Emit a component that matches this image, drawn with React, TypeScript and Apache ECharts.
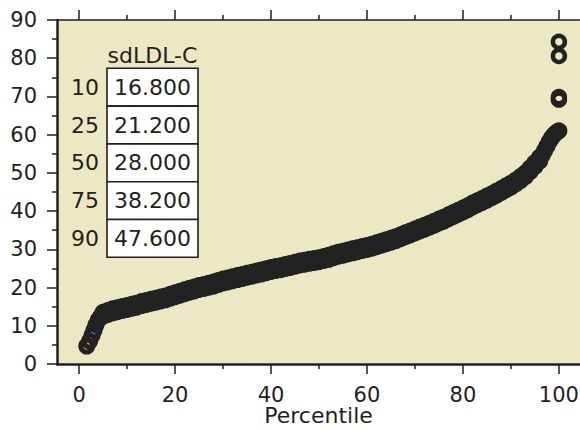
import React, { useEffect, useRef } from "react";
import * as echarts from "echarts";

// Lower tail (steep start of the curve)
const lowTailPct = [1.6, 2.2, 2.7, 3.1, 3.5, 4.0, 4.5];
const lowTailVals = [4.7, 6.0, 7.5, 8.8, 10.2, 11.5, 12.4];

// Main body of the curve: lower and upper edge of the dense band of points
const bandPct = [
  5, 6, 7, 8, 9, 10, 11, 12, 13, 14, 15, 16, 17, 18, 19, 20,
  21, 22, 23, 24, 25, 26, 27, 28, 29, 30, 31, 32, 33, 34, 35, 36, 37, 38, 39, 40,
  41, 42, 43, 44, 45, 46, 47, 48, 49, 50, 51, 52, 53, 54, 55, 56, 57, 58, 59, 60,
  61, 62, 63, 64, 65, 66, 67, 68, 69, 70, 71, 72, 73, 74, 75, 76, 77, 78, 79, 80,
  81, 82, 83, 84, 85, 86, 87, 88, 89, 90, 91, 92, 93, 94, 95, 96,
];
const bandLower = [
  12.5, 13.0, 13.4, 13.7, 14.0, 14.3, 14.6, 14.9, 15.3, 15.6, 15.9, 16.2, 16.5, 16.8, 17.2, 17.6,
  18.0, 18.4, 18.8, 19.1, 19.5, 19.8, 20.1, 20.4, 20.8, 21.2, 21.5, 21.8, 22.1, 22.4, 22.7, 23.0, 23.3, 23.6, 23.9, 24.2,
  24.5, 24.7, 25.0, 25.3, 25.6, 25.9, 26.1, 26.4, 26.6, 26.8, 27.1, 27.4, 27.8, 28.2, 28.5, 28.8, 29.1, 29.4, 29.7, 30.0,
  30.3, 30.7, 31.1, 31.5, 31.9, 32.3, 32.8, 33.3, 33.8, 34.3, 34.8, 35.3, 35.8, 36.3, 36.9, 37.4, 38.0, 38.6, 39.2, 39.8,
  40.4, 41.1, 41.7, 42.3, 42.9, 43.5, 44.2, 44.9, 45.6, 46.3, 47.1, 48.0, 49.0, 50.3, 51.7, 53.1,
];
const bandUpper = [
  13.5, 14.0, 14.4, 14.7, 15.0, 15.3, 15.6, 15.9, 16.3, 16.6, 16.9, 17.2, 17.5, 17.8, 18.2, 18.6,
  19.0, 19.4, 19.8, 20.1, 20.5, 20.8, 21.1, 21.4, 21.8, 22.2, 22.5, 22.8, 23.1, 23.4, 23.7, 24.0, 24.3, 24.6, 24.9, 25.2,
  25.5, 25.7, 26.0, 26.3, 26.6, 26.9, 27.1, 27.4, 27.6, 27.8, 28.1, 28.4, 28.8, 29.2, 29.5, 29.8, 30.1, 30.4, 30.7, 31.0,
  31.3, 31.7, 32.1, 32.5, 32.9, 33.3, 33.8, 34.3, 34.8, 35.3, 35.8, 36.3, 36.8, 37.3, 37.9, 38.4, 39.0, 39.6, 40.2, 40.8,
  41.4, 42.1, 42.7, 43.3, 43.9, 44.5, 45.2, 45.9, 46.6, 47.3, 48.1, 49.0, 50.0, 51.3, 52.7, 54.1,
];

// Upper tail (steep end of the curve)
const topTailPct = [96.5, 97, 97.5, 98, 98.5, 99, 99.5, 100];
const topTailVals = [54.6, 55.8, 57.0, 58.2, 59.2, 60.0, 60.6, 61.0];

// Isolated high values
const outlierPct = [100, 100, 100, 100];
const outlierVals = [69.2, 69.8, 80.6, 84.3];

const xMajorTicks = [0, 20, 40, 60, 80, 100];
const xMinorTicks = [10, 30, 50, 70, 90];
const yMinorTicks = [5, 15, 25, 35, 45, 55, 65, 75, 85];

const tableTitle = "sdLDL-C";
const tablePercentiles = ["10", "25", "50", "75", "90"];
const tableValues = ["16.800", "21.200", "28.000", "38.200", "47.600"];

const FONT = "DejaVu Sans";
const INK = "#231f20";
const BG = "#ece8c4";

export default function App() {
  const ref = useRef<HTMLDivElement>(null);
  useEffect(() => {
    if (!ref.current) return;
    const chart = echarts.init(ref.current, null, { renderer: "svg" });

    const mainData: number[][] = [];
    lowTailPct.forEach((p, i) => mainData.push([p, lowTailVals[i]]));
    bandPct.forEach((p, i) => {
      mainData.push([p, bandLower[i]]);
      mainData.push([p, bandUpper[i]]);
    });
    topTailPct.forEach((p, i) => mainData.push([p, topTailVals[i]]));
    const outData = outlierPct.map((p, i) => [p, outlierVals[i]]);

    const boxLeft = 107;
    const boxWidth = 91;
    const boxTop = 68.3;
    const rowH = 37.8;
    const graphics: any[] = [
      {
        type: "text",
        x: boxLeft + boxWidth / 2,
        y: 55,
        style: { text: tableTitle, font: `22px '${FONT}'`, fill: INK, align: "center", verticalAlign: "middle" },
        z: 100,
      },
    ];
    tablePercentiles.forEach((p, i) => {
      const top = boxTop + i * rowH;
      graphics.push({
        type: "rect",
        shape: { x: boxLeft, y: top, width: boxWidth, height: rowH },
        style: { fill: "#ffffff", stroke: INK, lineWidth: 1.6 },
        z: 100,
      });
      graphics.push({
        type: "text",
        x: boxLeft + boxWidth / 2,
        y: top + rowH / 2,
        style: { text: tableValues[i], font: `22px '${FONT}'`, fill: INK, align: "center", verticalAlign: "middle" },
        z: 101,
      });
      graphics.push({
        type: "text",
        x: 99,
        y: top + rowH / 2,
        style: { text: p, font: `22px '${FONT}'`, fill: INK, align: "right", verticalAlign: "middle" },
        z: 101,
      });
    });

    const baseX = { type: "value", min: -4.6, max: 104.4, splitLine: { show: false } };
    const baseY = { type: "value", min: 0, max: 90, splitLine: { show: false } };
    const tickStyle = { color: INK, width: 1.5 };

    chart.setOption({
      animation: false,
      textStyle: { fontFamily: FONT },
      grid: {
        left: 57,
        right: 0,
        top: 20,
        bottom: 67,
        containLabel: false,
        outerBoundsMode: "none",
        show: true,
        backgroundColor: BG,
        borderWidth: 0,
      },
      xAxis: [
        {
          ...baseX,
          position: "bottom",
          name: "Percentile",
          nameLocation: "middle",
          nameGap: 40,
          nameMoveOverlap: false,
          nameTextStyle: { fontSize: 22, lineHeight: 22, color: INK, fontFamily: FONT },
          axisLine: { show: true, onZero: false, lineStyle: { color: INK, width: 2.5 } },
          axisTick: { show: true, customValues: xMajorTicks, length: 10, lineStyle: tickStyle },
          axisLabel: { show: true, customValues: xMajorTicks, fontSize: 21, color: INK, margin: 20, fontFamily: FONT },
        },
        {
          ...baseX,
          position: "bottom",
          axisLine: { show: false, onZero: false },
          axisTick: { show: true, customValues: xMinorTicks, length: 5, lineStyle: tickStyle },
          axisLabel: { show: false },
        },
        {
          ...baseX,
          position: "top",
          axisLine: { show: true, onZero: false, lineStyle: { color: INK, width: 1.5 } },
          axisTick: { show: true, customValues: xMajorTicks, length: 10, lineStyle: tickStyle },
          axisLabel: { show: false },
        },
        {
          ...baseX,
          position: "top",
          axisLine: { show: false, onZero: false },
          axisTick: { show: true, customValues: xMinorTicks, length: 5, lineStyle: tickStyle },
          axisLabel: { show: false },
        },
      ],
      yAxis: [
        {
          ...baseY,
          position: "left",
          interval: 10,
          axisLine: { show: true, onZero: false, lineStyle: { color: INK, width: 2.5 } },
          axisTick: { show: true, length: 10, lineStyle: tickStyle },
          axisLabel: { fontSize: 21, color: INK, margin: 20, fontFamily: FONT },
        },
        {
          ...baseY,
          position: "left",
          offset: 0,
          axisLine: { show: false, onZero: false },
          axisTick: { show: true, customValues: yMinorTicks, length: 5, lineStyle: tickStyle },
          axisLabel: { show: false },
        },
      ],
      series: [
        {
          type: "scatter",
          xAxisIndex: 0,
          yAxisIndex: 0,
          data: mainData,
          symbol: "circle",
          symbolSize: 12,
          itemStyle: { color: "rgba(0,0,0,0)", borderColor: "#222", borderWidth: 5, opacity: 1 },
          silent: true,
        },
        {
          type: "scatter",
          xAxisIndex: 0,
          yAxisIndex: 0,
          data: outData,
          symbol: "circle",
          symbolSize: 12,
          itemStyle: { color: "rgba(0,0,0,0)", borderColor: "#222", borderWidth: 4.5, opacity: 1 },
          silent: true,
        },
      ],
      graphic: graphics,
    });
    return () => chart.dispose();
  }, []);
  return <div ref={ref} style={{ width: 580, height: 431, position: "absolute", left: 0, top: 0 }} />;
}
